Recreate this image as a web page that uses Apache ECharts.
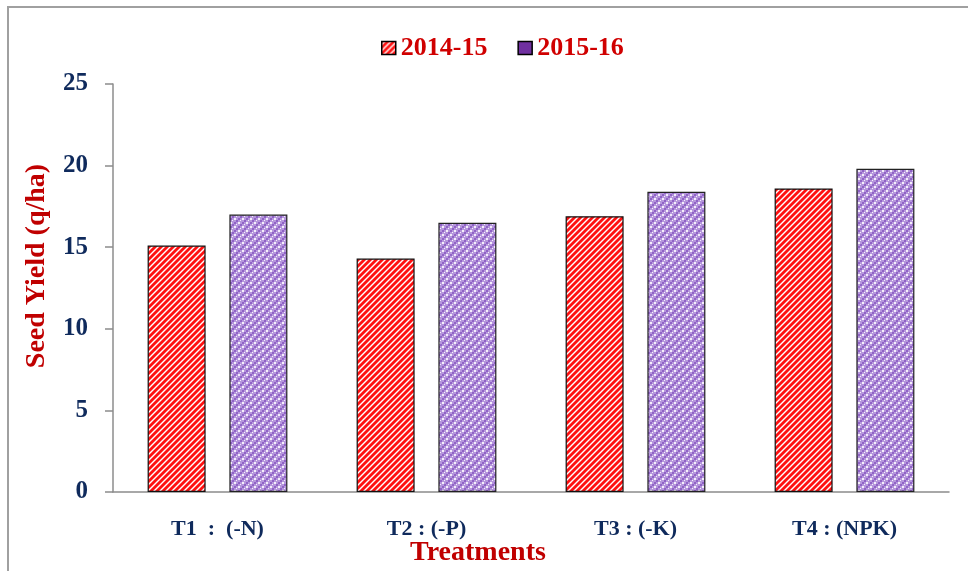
<!DOCTYPE html>
<html><head><meta charset="utf-8">
<script src="https://cdn.jsdelivr.net/npm/echarts@6/dist/echarts.min.js"></script>
<style>html,body{margin:0;padding:0;background:#fff}#c{width:968px;height:571px}</style>
</head><body><div id="c"></div>
<script>
var categories = ['T1  :  (-N)', 'T2 : (-P)', 'T3 : (-K)', 'T4 : (NPK)'];
var series2014 = [15.1, 14.3, 16.9, 18.6];
var series2015 = [17.0, 16.5, 18.4, 19.8];
var seriesNames = ['2014-15', '2015-16'];

function redPattern(){
  var c = document.createElement('canvas'); c.width = 6; c.height = 6;
  var g = c.getContext('2d');
  g.fillStyle = '#ffffff'; g.fillRect(0,0,6,6);
  g.strokeStyle = '#ff1010'; g.lineWidth = 2.8;
  [[0,6,6,0],[-3,3,3,-3],[3,9,9,3]].forEach(function(l){
    g.beginPath(); g.moveTo(l[0],l[1]); g.lineTo(l[2],l[3]); g.stroke();
  });
  return c;
}
function purplePattern(){
  var c = document.createElement('canvas'); c.width = 8; c.height = 8;
  var g = c.getContext('2d');
  g.fillStyle = '#b596dc'; g.fillRect(0,0,8,8);
  g.fillStyle = '#8f62c6';
  g.fillRect(0,0,2,2); g.fillRect(4,4,2,2);
  g.fillRect(6,2,2,2); g.fillRect(2,6,2,2);
  g.fillStyle = '#f4eefb';
  g.fillRect(2,2,2,2); g.fillRect(6,6,2,2);
  g.fillRect(4,0,1,1); g.fillRect(0,4,1,1);
  return c;
}

var chart = echarts.init(document.getElementById('c'), null, {renderer:'canvas'});
var font = '"Liberation Serif", "Times New Roman", serif';
chart.setOption({
  animation: false,
  backgroundColor: '#fff',
  legend: {
    top: 30, left: 376, itemWidth: 14, itemHeight: 13, itemGap: 30, icon: 'rect',
    textStyle: {color: '#d00000', fontFamily: font, fontWeight: 'bold', fontSize: 26},
    data: [
      {name: seriesNames[0], itemStyle: {color: {image: redPattern(), repeat: 'repeat'}, borderColor: '#000', borderWidth: 1.5}},
      {name: seriesNames[1], itemStyle: {color: '#7030a0', borderColor: '#000', borderWidth: 1.5}}
    ]
  },
  grid: {left: 113, right: 19, top: 84, bottom: 79},
  xAxis: {
    type: 'category', data: categories,
    axisLine: {lineStyle: {color: '#8c8c8c', width: 1.5}},
    axisTick: {length: 9, lineStyle: {color: '#8c8c8c', width: 1.5}},
    axisLabel: {margin: 26, color: '#0f2a5c', fontFamily: font, fontWeight: 'bold', fontSize: 22}
  },
  yAxis: {
    type: 'value', min: 0, max: 25, interval: 5,
    splitLine: {show: false},
    axisLine: {show: true, lineStyle: {color: '#8c8c8c', width: 1.5}},
    axisTick: {show: true, length: 8, lineStyle: {color: '#8c8c8c', width: 1.5}},
    axisLabel: {margin: 25, color: '#0f2a5c', fontFamily: font, fontWeight: 'bold', fontSize: 25}
  },
  graphic: [
    {type: 'polyline', shape: {points: [[8,571],[8,7],[968,7]]}, style: {stroke: '#a0a0a0', lineWidth: 2, fill: null}},
    {type: 'text', x: 37, y: 266, rotation: Math.PI/2, style: {text: 'Seed Yield (q/ha)', fill: '#c00000', font: 'bold 28px ' + font, textAlign: 'center', textVerticalAlign: 'middle'}},
    {type: 'text', x: 478, y: 553, style: {text: 'Treatments', fill: '#c00000', font: 'bold 28px ' + font, textAlign: 'center', textVerticalAlign: 'middle'}}
  ],
  series: [
    {name: seriesNames[0], type: 'bar', data: series2014, barWidth: 58, barGap: '41%',
     itemStyle: {color: {image: redPattern(), repeat: 'repeat'}, borderColor: '#111', borderWidth: 1.2}},
    {name: seriesNames[1], type: 'bar', data: series2015, barWidth: 58,
     itemStyle: {color: {image: purplePattern(), repeat: 'repeat'}, borderColor: '#222', borderWidth: 1.2}}
  ]
});
</script></body></html>
